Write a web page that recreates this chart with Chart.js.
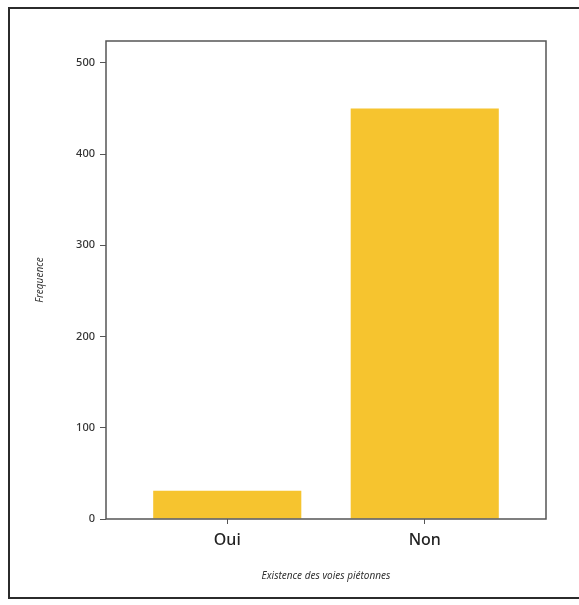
<!DOCTYPE html>
<html>
<head>
<meta charset="utf-8">
<script src="https://cdn.jsdelivr.net/npm/chart.js@4"></script>
<style>
    body { margin: 0; background: #fff; }
    #frame { position: absolute; left: 8px; top: 7px; width: 590px; height: 592px; border: 2px solid #2b2b2b; box-sizing: border-box; }
    #wrap { position: absolute; left: 0; top: 0; width: 579px; height: 605px; }
</style>
</head>
<body>
<div id="frame"></div>
<div id="wrap"><canvas id="chart"></canvas></div>
<script>
// Data
const categories = ["Oui", "Non"];
const frequences = [31, 450];
const yTicks = [0, 100, 200, 300, 400, 500];

// draws a box round the plot area
const boxPlugin = {
    id: 'box',
    afterDraw(chart) {
        const a = chart.chartArea;
        const ctx = chart.ctx;
        ctx.save();
        ctx.strokeStyle = '#555';
        ctx.lineWidth = 1.5;
        ctx.strokeRect(a.left, a.top, a.right - a.left, a.bottom - a.top);
        ctx.restore();
    }
};

const ctx = document.getElementById('chart').getContext('2d');
new Chart(ctx, {
    type: 'bar',
    data: {
        datasets: [{
            data: frequences.map((v, i) => ({ x: i, y: v })),
            backgroundColor: 'rgb(246, 196, 47)',
            borderWidth: 0,
            categoryPercentage: 1,
            barPercentage: 0.75
        }]
    },
    options: {
        responsive: true,
        maintainAspectRatio: false,
        animation: false,
        layout: { padding: { left: 0, right: 33, top: 41, bottom: 0 } },
        plugins: {
            legend: { display: false },
            tooltip: { enabled: false }
        },
        scales: {
            x: {
                type: 'linear',
                offset: false,
                min: -0.614,
                max: 1.614,
                afterBuildTicks: scale => { scale.ticks = categories.map((c, i) => ({ value: i })); },
                afterFit: scale => { scale.height = 86; },
                ticks: {
                    callback: v => categories[v],
                    color: '#222',
                    font: { family: 'Noto Sans', size: 16, weight: '500' },
                    padding: 7,
                    maxRotation: 0
                },
                grid: { drawOnChartArea: false, offset: false, tickLength: 5, color: '#555' },
                border: { display: false },
                title: {
                    display: true,
                    text: 'Existence des voies piétonnes',
                    color: '#333',
                    font: { family: 'Noto Sans', size: 10, style: 'italic' },
                    padding: { top: 0, bottom: 23 }
                }
            },
            y: {
                min: 0,
                max: 524,
                afterBuildTicks: scale => { scale.ticks = yTicks.map(v => ({ value: v })); },
                afterFit: scale => { scale.width = 106; },
                ticks: {
                    color: '#333',
                    font: { family: 'Noto Sans', size: 11, weight: '500' },
                    padding: 5
                },
                grid: { drawOnChartArea: false, tickLength: 6, color: '#555' },
                border: { display: false },
                title: {
                    display: true,
                    text: 'Frequence',
                    color: '#333',
                    font: { family: 'Noto Sans', size: 10, style: 'italic' },
                    padding: { top: 34, bottom: 0 }
                }
            }
        }
    },
    plugins: [boxPlugin]
});
</script>
</body>
</html>
